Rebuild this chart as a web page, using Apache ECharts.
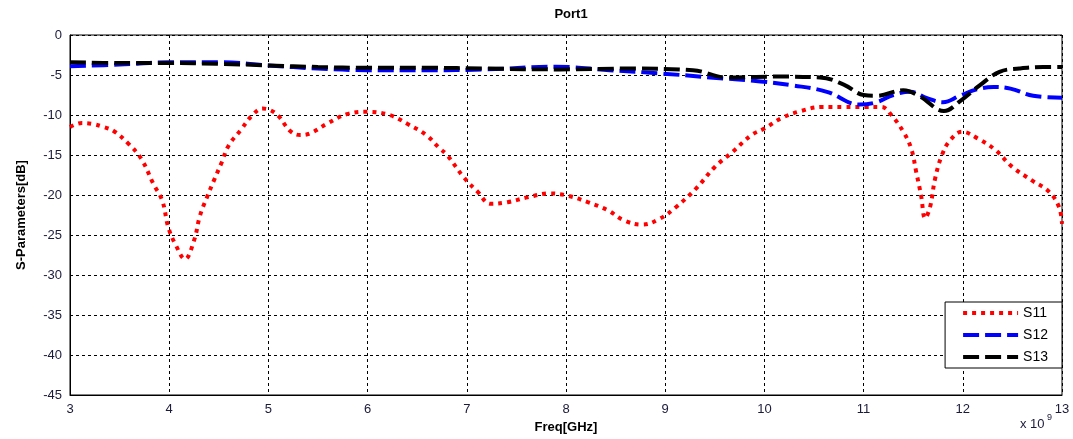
<!DOCTYPE html>
<html>
<head>
<meta charset="utf-8">
<script src="https://cdn.jsdelivr.net/npm/echarts@6/dist/echarts.min.js"></script>
<style>
html, body { margin: 0; padding: 0; background: #fff; }
#tu1 { width: 1073px; height: 439px; }
</style>
</head>
<body>
<div id="tu1"></div>
<script>
// frequencies in GHz (axis shows x 10^9 Hz)
var freqS11 = [3.0, 3.12, 3.22, 3.34, 3.44, 3.59, 3.72, 3.84, 3.93, 3.99, 4.06, 4.16, 4.25, 4.31, 4.38, 4.45,
    4.53, 4.60, 4.72, 4.84, 4.94, 5.02, 5.10, 5.22, 5.32, 5.42, 5.59, 5.79, 6.00, 6.22, 6.40, 6.59, 6.72,
    6.80, 6.97, 7.11, 7.24, 7.41, 7.61, 7.83, 8.02, 8.22, 8.42, 8.59, 8.77, 8.94, 9.11, 9.31, 9.50, 9.68,
    9.87, 10.00, 10.17, 10.37, 10.58, 10.81, 11.01, 11.18, 11.28, 11.40, 11.48, 11.53, 11.58, 11.62, 11.67,
    11.72, 11.79, 11.87, 11.99, 12.16, 12.33, 12.50, 12.70, 12.87, 12.97, 13.0];
var s11 = [-11.5, -11.0, -11.1, -11.5, -12.0, -13.6, -15.5, -18.6, -20.7, -24.0, -26.1, -28.0, -25.7, -22.6,
    -20.3, -18.2, -15.9, -13.8, -11.9, -10.0, -9.2, -9.4, -10.1, -12.0, -12.5, -12.3, -11.1, -9.9, -9.6,
    -10.0, -11.1, -12.5, -14.1, -15.0, -17.8, -19.6, -21.1, -20.9, -20.3, -19.8, -20.1, -20.9, -21.9, -23.2,
    -23.7, -23.0, -21.5, -19.2, -16.5, -14.6, -12.5, -11.7, -10.4, -9.5, -9.0, -9.0, -9.0, -9.0, -10.0,
    -12.1, -14.2, -17.1, -20.1, -22.9, -21.5, -18.0, -15.0, -13.2, -12.1, -13.0, -14.4, -16.5, -18.2,
    -19.6, -21.5, -23.6];

var freqS12 = [3.0, 3.5, 4.0, 4.5, 5.0, 5.5, 6.0, 6.6, 7.2, 7.9, 8.44, 8.95, 9.45, 9.96, 10.29, 10.63,
    10.96, 11.13, 11.30, 11.47, 11.64, 11.80, 11.97, 12.14, 12.31, 12.48, 12.71, 13.0];
var s12 = [-3.9, -3.7, -3.4, -3.4, -3.8, -4.2, -4.4, -4.4, -4.3, -3.97, -4.4, -4.8, -5.3, -5.8, -6.3, -7.1,
    -8.7, -8.4, -7.5, -7.1, -7.9, -8.4, -7.6, -6.8, -6.5, -6.7, -7.6, -7.85];

var freqS13 = [3.0, 3.5, 4.0, 4.5, 5.0, 5.5, 6.0, 6.6, 7.2, 7.94, 8.61, 9.28, 9.62, 10.12, 10.56, 10.80,
    11.0, 11.13, 11.40, 11.57, 11.81, 11.97, 12.17, 12.37, 12.57, 12.81, 13.0];
var s13 = [-3.4, -3.5, -3.5, -3.6, -3.8, -4.0, -4.1, -4.1, -4.2, -4.3, -4.2, -4.4, -5.3, -5.2, -5.3, -6.2,
    -7.5, -7.6, -6.9, -7.7, -9.5, -8.3, -6.3, -4.6, -4.2, -4.0, -4.0];

var seriesNames = ['S11', 'S12', 'S13'];

function pairs(xs, ys) {
    return xs.map(function (x, i) { return [x, ys[i]]; });
}

var myChart1 = echarts.init(document.getElementById('tu1'));

var option1 = {
    animation: false,
    textStyle: { fontFamily: 'Liberation Sans, Arial, sans-serif' },
    title: {
        text: 'Port1',
        left: 566,
        top: 3,
        textAlign: 'center',
        textStyle: { fontSize: 13, fontWeight: 'bold', color: '#000' }
    },
    legend: {
        orient: 'vertical',
        right: 11,
        top: 302,
        itemWidth: 55,
        itemHeight: 14,
        itemGap: 8,
        padding: [4, 14, 4, 16],
        backgroundColor: '#fff',
        borderColor: '#000',
        borderWidth: 1,
        borderRadius: 0,
        itemStyle: { opacity: 0 },
        textStyle: { fontSize: 14, color: '#000' },
        data: [
            { name: 'S11', lineStyle: { width: 4, type: [4, 5] } },
            { name: 'S12', lineStyle: { width: 4, type: [16, 6] } },
            { name: 'S13', lineStyle: { width: 4, type: [16, 6] } }
        ]
    },
    grid: {
        left: 70,
        right: 11,
        top: 35,
        bottom: 44
    },
    xAxis: {
        type: 'value',
        min: 3,
        max: 13,
        interval: 1,
        name: 'Freq[GHz]',
        nameLocation: 'middle',
        nameGap: 22,
        nameTextStyle: { fontSize: 13, fontWeight: 'bold', color: '#000' },
        axisLine: { onZero: false, lineStyle: { color: '#000', width: 1 } },
        axisTick: { show: false },
        axisLabel: { fontSize: 13, color: '#1a1a3a', margin: 8 },
        splitLine: { lineStyle: { type: [3, 3], color: '#000', width: 1 } }
    },
    yAxis: {
        type: 'value',
        min: -45,
        max: 0,
        interval: 5,
        name: 'S-Parameters[dB]',
        nameLocation: 'middle',
        nameGap: 42,
        nameTextStyle: { fontSize: 13, fontWeight: 'bold', color: '#000' },
        axisLine: { show: true, lineStyle: { color: '#000', width: 1 } },
        axisTick: { show: false },
        axisLabel: { fontSize: 13, color: '#1a1a3a', margin: 8 },
        splitLine: { lineStyle: { type: [3, 3], color: '#000', width: 1 } }
    },
    graphic: [
        // top and right frame of the axes box
        { type: 'rect', shape: { x: 70, y: 35, width: 992, height: 360 },
          style: { fill: 'none', stroke: '#000', lineWidth: 1 }, silent: true, z: 1 },
        { type: 'text', left: 1020, top: 418,
          style: { text: 'x 10', fontSize: 13, fill: '#1a1a3a', fontFamily: 'Liberation Sans, Arial, sans-serif' } },
        { type: 'text', left: 1047, top: 413,
          style: { text: '9', fontSize: 9, fill: '#1a1a3a', fontFamily: 'Liberation Sans, Arial, sans-serif' } }
    ],
    series: [{
        name: 'S11',
        type: 'line',
        smooth: 0.4,
        symbol: 'none',
        color: '#ff0000',
        lineStyle: { color: '#ff0000', width: 4, type: [4, 5], cap: 'butt' },
        data: pairs(freqS11, s11)
    }, {
        name: 'S12',
        type: 'line',
        smooth: 0.4,
        symbol: 'none',
        color: '#0000ff',
        lineStyle: { color: '#0000ff', width: 4, type: [16, 6], cap: 'butt' },
        data: pairs(freqS12, s12)
    }, {
        name: 'S13',
        type: 'line',
        smooth: 0.4,
        symbol: 'none',
        color: '#000000',
        lineStyle: { color: '#000000', width: 4, type: [16, 6], cap: 'butt' },
        data: pairs(freqS13, s13)
    }]
};

myChart1.setOption(option1);
</script>
</body>
</html>
